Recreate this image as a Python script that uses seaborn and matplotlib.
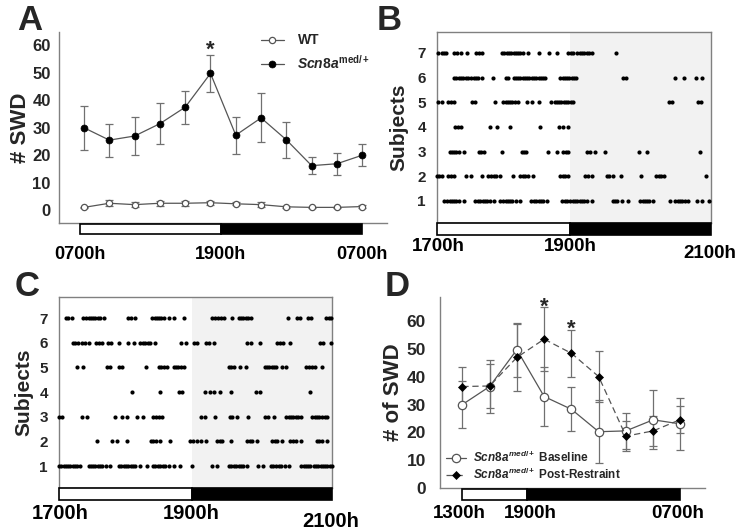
import matplotlib.pyplot as plt
import matplotlib.patches as mpatches
import pandas as pd
import seaborn as sns

# ---- A: number of SWD per 2 h bin (0700h -> 0700h)
a_bins = list(range(12))
a_wt_mean = [1.0, 2.5, 2.0, 2.5, 2.5, 2.7, 2.3, 2.0, 1.2, 1.0, 1.0, 1.3]
a_wt_sem = [0.3, 1.1, 1.0, 0.9, 0.9, 0.8, 0.6, 0.9, 0.4, 0.3, 0.3, 0.4]
a_med_mean = [30.0, 25.5, 27.0, 31.5, 37.5, 49.8, 27.3, 33.6, 25.6, 16.2, 16.9, 20.0]
a_med_sem = [8.0, 6.0, 7.0, 7.5, 6.0, 6.8, 6.8, 8.9, 6.5, 3.1, 4.0, 4.0]
a_labels = ['0700h', '1900h', '0700h']

# ---- B / C: seizure raster, minutes after 1700h, one list per subject
b_s7 = [1, 4, 6, 8, 15, 17.5, 21, 26, 34, 36.5, 39, 57, 59, 61, 63, 65, 67, 69, 71, 73, 75, 80,
        89, 98, 105, 115, 117, 119, 123, 125, 127, 129, 131, 133, 136, 157]
b_s6 = [15, 17, 19, 21, 23, 25, 27.5, 30, 32, 34, 36, 39, 49, 60, 62, 67, 69, 71, 73, 75, 77, 79,
        81, 83, 85, 87, 89, 91, 93, 95, 108, 110, 112, 114, 116, 118, 120, 122, 163, 165.5,
        208.5, 216.5, 227, 232]
b_s5 = [0.5, 4, 10, 12, 15, 31, 33.5, 51, 58, 60, 62, 64, 66, 68, 71, 79, 83, 89.5, 99.5, 103,
        105, 107, 109, 111, 113, 115, 117, 119, 203, 205.5, 229, 231.5]
b_s4 = [16, 18.5, 21, 46.5, 52.5, 63.5, 90.5, 106.5, 110, 114.5]
b_s3 = [11, 13, 15, 17, 19, 23.5, 36.5, 38.5, 41, 56.5, 74, 76, 78, 97, 105, 110.5, 113, 115,
        131.5, 134, 138.5, 147.5, 176.5, 183.5, 230.5]
b_s2 = [0, 2, 4, 10, 12, 14.5, 25, 30, 39, 45, 47.5, 50, 52, 55.5, 66.5, 73, 75, 77, 80, 84,
        108, 110, 112, 115, 129.5, 132, 135.5, 149, 151, 154.5, 161, 178.5, 192, 194, 196, 199,
        235.5]
b_s1 = [6, 8.5, 11, 13, 15, 17, 19, 24, 33.5, 36, 38, 40, 42, 44, 46, 49.5, 55.5, 58, 60, 62,
        64, 66, 69, 73, 82.5, 85, 87, 89, 91, 93, 96.5, 109.5, 112, 114, 116.5, 119, 121, 123,
        125, 127, 129, 131, 135.5, 154, 156, 158, 162, 167.5, 178, 180, 182, 184, 186, 189, 204,
        208.5, 211, 213, 215, 217, 219.5, 227.5, 232, 238.5]

c_s7 = [6, 8, 11, 21.5, 24, 26, 28, 30, 32, 34, 36, 39.5, 61, 63, 67, 82, 84, 86, 88, 90, 92,
        96.5, 101, 110, 134.5, 137, 139.5, 142, 145, 152, 158, 160, 162, 164, 166, 169, 201,
        209.5, 212, 219, 221.5, 234.5, 237, 239]
c_s6 = [12, 14, 17, 20.5, 23, 26, 32.5, 35, 37.5, 43, 46, 53, 61, 65.5, 71.5, 74, 76, 78, 80,
        84.5, 107, 111.5, 118.5, 121.5, 129.5, 132, 136, 165.5, 169, 177, 192, 194.5, 197,
        203.5, 229.5, 232, 239]
c_s5 = [15.5, 21.5, 42, 45, 52.5, 55.5, 76.5, 87.5, 90, 92, 95, 101, 103, 105, 107, 110, 149.5,
        151.5, 153.5, 159, 164, 181, 183, 185, 187, 189, 191, 196.5, 200, 217, 220, 222.5, 225,
        231.5]
c_s4 = [64.5, 89, 105.5, 108, 128.5, 133, 136, 141.5, 151, 173, 177, 220.5]
c_s3 = [0, 2.5, 20, 24.5, 49, 55.5, 59.5, 68.5, 73.5, 83, 85.5, 88, 90.5, 124.5, 128.5, 137.5,
        150, 152.5, 156.5, 166, 181.5, 184, 189, 199.5, 202, 204, 206, 208, 210, 213, 222.5,
        225, 227, 229, 231, 234, 236]
c_s2 = [33.5, 46.5, 51, 59.5, 80.5, 83, 85.5, 89, 98, 115.5, 118, 121.5, 124.5, 129.5, 139,
        141.5, 143.5, 151.5, 165.5, 168, 170, 174.5, 187.5, 190, 192, 196.5, 203.5, 206, 208,
        212.5, 226.5, 229, 231, 235.5]
c_s1 = [0, 2, 4, 6, 8, 10, 12, 14, 16, 18.5, 26, 28, 30, 32, 34, 36, 38, 41, 45, 52.5, 54.5, 57,
        59, 61, 63, 65, 67, 71.5, 77.5, 82.5, 84.5, 87, 89, 91, 93, 97, 101, 106, 117, 134.5,
        139, 149.5, 151.5, 154, 156, 158, 160, 162, 165.5, 175, 179.5, 186, 188.5, 191, 193,
        195, 199, 202, 212.5, 215, 217, 219, 221, 224, 226, 228, 230, 232, 234, 236, 238, 240]
raster_labels = ['1700h', '1900h', '2100h']
lights_off = 116.5

# ---- D: baseline vs post-restraint
d_bins = list(range(9))
d_base_mean = [30.0, 36.5, 49.8, 32.9, 28.3, 20.2, 20.5, 24.5, 23.0]
d_base_sem = [8.5, 9.5, 9.7, 10.6, 8.0, 11.4, 6.5, 10.7, 9.5]
d_post_mean = [36.5, 36.7, 47.0, 53.6, 48.5, 40.1, 18.6, 20.5, 24.6]
d_post_sem = [7.2, 8.0, 12.1, 11.5, 8.4, 9.2, 5.5, 5.5, 5.0]
d_labels = ['1300h', '1900h', '0700h']

sns.set_theme(style='white')
plt.rcParams['font.family'] = ['Liberation Sans', 'DejaVu Sans']
plt.rcParams['font.weight'] = 'bold'
plt.rcParams['mathtext.fontset'] = 'custom'
plt.rcParams['mathtext.rm'] = 'Liberation Sans:bold'
plt.rcParams['mathtext.it'] = 'Liberation Sans:italic:bold'
plt.rcParams['mathtext.bf'] = 'Liberation Sans:bold'

SPINE = '#808080'
LINE = '#555555'
ERR = '#707070'


def light_dark_bar(ax, x0, xs, x1, y0, h):
    tr = ax.get_xaxis_transform()
    for a, b, c in [(x0, xs, 'white'), (xs, x1, 'black')]:
        ax.add_patch(mpatches.Rectangle((a, y0), b - a, h, transform=tr, facecolor=c,
                                        edgecolor='black', lw=1.2, clip_on=False, zorder=5))


def time_labels(ax, xs, labels, ys, size):
    tr = ax.get_xaxis_transform()
    for x, lab, y in zip(xs, labels, ys):
        ax.text(x, y, lab, transform=tr, ha='center', va='center', fontsize=size,
                fontweight='bold', color='black')


def style_axes(ax, box):
    for side, sp in ax.spines.items():
        sp.set_color(SPINE)
        sp.set_linewidth(1)
        if not box and side in ('top', 'right'):
            sp.set_visible(False)
    ax.tick_params(length=0)
    for t in ax.get_yticklabels():
        t.set_fontweight('bold')


fig = plt.figure(figsize=(7.45, 5.3), dpi=100)

# ---------------- A
ax = fig.add_axes([0.0792, 0.5792, 0.4403, 0.361])
ax.errorbar(a_bins, a_med_mean, yerr=a_med_sem, fmt='none', ecolor=ERR, elinewidth=0.9,
            capsize=3, capthick=0.9, zorder=2)
ax.errorbar(a_bins, a_wt_mean, yerr=a_wt_sem, fmt='none', ecolor=ERR, elinewidth=0.9,
            capsize=3, capthick=0.9, zorder=2)
sns.lineplot(x=a_bins, y=a_wt_mean, ax=ax, color=LINE, lw=0.9, marker='o', markersize=4.5,
             markerfacecolor='white', markeredgecolor=LINE, markeredgewidth=0.9,
             label='WT', zorder=3)
sns.lineplot(x=a_bins, y=a_med_mean, ax=ax, color=LINE, lw=0.9, marker='o', markersize=5,
             markerfacecolor='black', markeredgecolor='black', markeredgewidth=0.5,
             label=r'$\mathit{Scn8a}^{\mathrm{med/+}}$', zorder=4)
ax.set_xlim(-0.99, 11.98)
ax.set_ylim(-4.7, 65)
ax.set_yticks(range(0, 61, 10))
ax.set_xticks([])
ax.tick_params(axis='y', labelsize=12, pad=6)
ax.set_ylabel('# SWD', fontsize=16, fontweight='bold')
ax.yaxis.set_label_coords(-0.085, 0.5)
style_axes(ax, box=False)
light_dark_bar(ax, -0.16, 5.4, 11.0, -0.058, 0.052)
time_labels(ax, [-0.16, 5.4, 11.0], a_labels, [-0.167] * 3, 13)
ax.text(5, 58.4, '*', ha='center', va='center', fontsize=16, fontweight='bold')
leg = ax.legend(loc='upper left', bbox_to_anchor=(0.6, 1.02), frameon=False, fontsize=10,
                handlelength=1.6, handletextpad=1.0, labelspacing=0.45, borderaxespad=0)

# ---------------- B and C rasters
def raster(ax, lists, label_ys, size):
    rows = []
    for subj, times in lists:
        rows += [(t, subj) for t in times]
    df = pd.DataFrame(rows, columns=['minute', 'subject'])
    ax.axvspan(lights_off, 240, color='#f2f2f2', zorder=0, lw=0)
    sns.scatterplot(data=df, x='minute', y='subject', ax=ax, color='black', s=9,
                    linewidth=0, legend=False, clip_on=False, zorder=3)
    ax.set_xlim(0, 240)
    ax.set_ylim(0.12, 7.86)
    ax.set_yticks(range(1, 8))
    ax.set_xticks([])
    ax.set_xlabel('')
    ax.tick_params(axis='y', labelsize=11, pad=8)
    ax.set_ylabel('Subjects', fontsize=15, fontweight='bold')
    style_axes(ax, box=True)
    light_dark_bar(ax, 0, lights_off, 240, -0.062, 0.062)
    time_labels(ax, [1, lights_off, 239], raster_labels, label_ys, size)


ax = fig.add_axes([0.5866, 0.5798, 0.3678, 0.3604])
raster(ax, [(1, b_s1), (2, b_s2), (3, b_s3), (4, b_s4), (5, b_s5), (6, b_s6), (7, b_s7)],
       [-0.125, -0.125, -0.16], 13.5)
ax.yaxis.set_label_coords(-0.103, 0.5)

ax = fig.add_axes([0.0792, 0.0798, 0.3664, 0.3598])
raster(ax, [(1, c_s1), (2, c_s2), (3, c_s3), (4, c_s4), (5, c_s5), (6, c_s6), (7, c_s7)],
       [-0.133, -0.133, -0.178], 14.5)
ax.yaxis.set_label_coords(-0.095, 0.5)

# ---------------- D
ax = fig.add_axes([0.5906, 0.0798, 0.3557, 0.3598])
ax.errorbar(d_bins, d_base_mean, yerr=d_base_sem, fmt='none', ecolor=ERR, elinewidth=0.9,
            capsize=3, capthick=0.9, zorder=2)
ax.errorbar(d_bins, d_post_mean, yerr=d_post_sem, fmt='none', ecolor=ERR, elinewidth=0.9,
            capsize=3, capthick=0.9, zorder=2)
sns.lineplot(x=d_bins, y=d_base_mean, ax=ax, color=LINE, lw=0.9, marker='o', markersize=6,
             markerfacecolor='white', markeredgecolor=LINE, markeredgewidth=0.9,
             label=r'$\mathit{Scn8a}^{\mathit{med/+}}$ Baseline', zorder=3)
sns.lineplot(x=d_bins, y=d_post_mean, ax=ax, color=LINE, lw=0.9, linestyle=(0, (5, 3)),
             marker='D', markersize=4.5, markerfacecolor='black', markeredgecolor='black',
             markeredgewidth=0.5, label=r'$\mathit{Scn8a}^{\mathit{med/+}}$ Post-Restraint',
             zorder=4)
ax.set_xlim(-0.82, 8.9)
ax.set_ylim(0, 68.8)
ax.set_yticks(range(0, 61, 10))
ax.set_xticks([])
ax.tick_params(axis='y', labelsize=12.5, pad=10)
ax.set_ylabel('# of SWD', fontsize=16, fontweight='bold')
ax.yaxis.set_label_coords(-0.137, 0.5)
style_axes(ax, box=False)
light_dark_bar(ax, 0, 2.38, 8, -0.064, 0.059)
time_labels(ax, [-0.1, 2.5, 7.9], d_labels, [-0.133] * 3, 13.5)
ax.text(3, 65.2, '*', ha='center', va='center', fontsize=16, fontweight='bold')
ax.text(4, 57.0, '*', ha='center', va='center', fontsize=16, fontweight='bold')
ax.legend(loc='lower left', bbox_to_anchor=(0.0, 0.0), frameon=False, fontsize=8.5,
          handlelength=1.7, handletextpad=0.6, labelspacing=0.15, borderaxespad=0.1)

for lab, x, y in [('A', 0.040, 0.962), ('B', 0.523, 0.962), ('C', 0.036, 0.460),
                  ('D', 0.533, 0.460)]:
    fig.text(x, y, lab, fontsize=25, fontweight='bold', ha='center', va='center')

fig.savefig('out.png', dpi=100)
